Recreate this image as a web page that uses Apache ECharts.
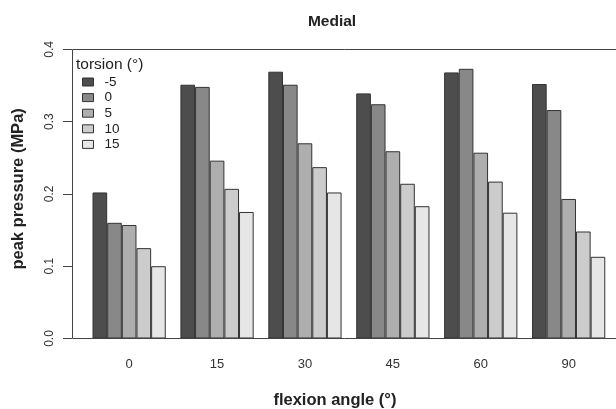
<!DOCTYPE html>
<html>
<head>
<meta charset="utf-8">
<script src="https://cdn.jsdelivr.net/npm/echarts@6/dist/echarts.min.js"></script>
<style>html,body{margin:0;padding:0;background:#fff;overflow:hidden}#c{width:616px;height:409px}</style>
</head>
<body>
<div id="c"></div>
<script>
const flexionAngles = ['0', '15', '30', '45', '60', '90'];
const torsionLevels = ['-5', '0', '5', '10', '15'];
const torsionM5 = [0.202, 0.351, 0.369, 0.339, 0.368, 0.352];
const torsion0 = [0.160, 0.348, 0.351, 0.324, 0.373, 0.316];
const torsion5 = [0.157, 0.246, 0.270, 0.259, 0.257, 0.193];
const torsion10 = [0.125, 0.207, 0.237, 0.214, 0.217, 0.148];
const torsion15 = [0.100, 0.175, 0.202, 0.183, 0.174, 0.113];
const yTicks = [0.0, 0.1, 0.2, 0.3, 0.4];

const seriesValues = [torsionM5, torsion0, torsion5, torsion10, torsion15];
const colors = ['#4D4D4D', '#888888', '#AEAEAE', '#CCCCCC', '#E6E6E6'];
const FONT = '"Liberation Sans", Arial, sans-serif';

const chart = echarts.init(document.getElementById('c'), null, {renderer: 'canvas'});
chart.setOption({
  animation: false,
  backgroundColor: '#fff',
  title: [
    {text: 'Medial', left: 327, top: 9, textAlign: 'center',
     textStyle: {fontFamily: FONT, fontSize: 15.5, fontWeight: 'bold', color: '#222'}},
    {text: 'torsion (°)', left: 76, top: 57,
     textStyle: {fontFamily: FONT, fontSize: 15.5, fontWeight: 'normal', color: '#222'}, padding: 0}
  ],
  legend: {
    orient: 'vertical', left: 82, top: 75, padding: 0,
    icon: 'rect', itemWidth: 11, itemHeight: 8, itemGap: 1.6,
    data: torsionLevels,
    itemStyle: {borderColor: '#333', borderWidth: 1},
    textStyle: {fontFamily: FONT, fontSize: 13.5, color: '#222', lineHeight: 14, padding: [0, 0, 0, 6]}
  },
  graphic: [{
    type: 'rect', z: 10, silent: true,
    shape: {x: 72.5, y: 49.5, width: 600, height: 289},
    style: {fill: 'none', stroke: '#444', lineWidth: 1}
  }],
  grid: {left: 85.2, width: 527.4, top: 49.3, height: 289.2, containLabel: false, outerBoundsMode: 'none'},
  xAxis: {
    type: 'category', data: flexionAngles,
    axisLine: {show: false}, axisTick: {show: false},
    axisLabel: {fontFamily: FONT, fontSize: 13, color: '#333', margin: 19},
    name: 'flexion angle (°)', nameLocation: 'middle', nameGap: 53,
    nameTextStyle: {fontFamily: FONT, fontSize: 16.5, fontWeight: 'bold', color: '#222', padding: [0, 28, 0, 0]}
  },
  yAxis: {
    type: 'value', min: 0, max: 0.4, interval: 0.1, offset: 13.2,
    splitLine: {show: false},
    axisLine: {show: false},
    axisTick: {show: true, length: 9, lineStyle: {color: '#444'}},
    axisLabel: {fontFamily: FONT, fontSize: 12, color: '#333', rotate: 90, margin: 22,
      align: 'center', verticalAlign: 'middle',
      formatter: v => yTicks.some(t => Math.abs(t - v) < 1e-9) ? v.toFixed(1) : ''},
    name: 'peak pressure (MPa)', nameLocation: 'middle', nameGap: 45, nameRotate: 90,
    nameTextStyle: {fontFamily: FONT, fontSize: 16.5, fontWeight: 'bold', color: '#222', padding: [0, 0, 0, 10]}
  },
  series: seriesValues.map((vals, i) => ({
    name: torsionLevels[i], type: 'bar', data: vals,
    barWidth: 14.65, barGap: '0%',
    itemStyle: {color: colors[i], borderColor: '#333', borderWidth: 1}
  }))
});
</script>
</body>
</html>
